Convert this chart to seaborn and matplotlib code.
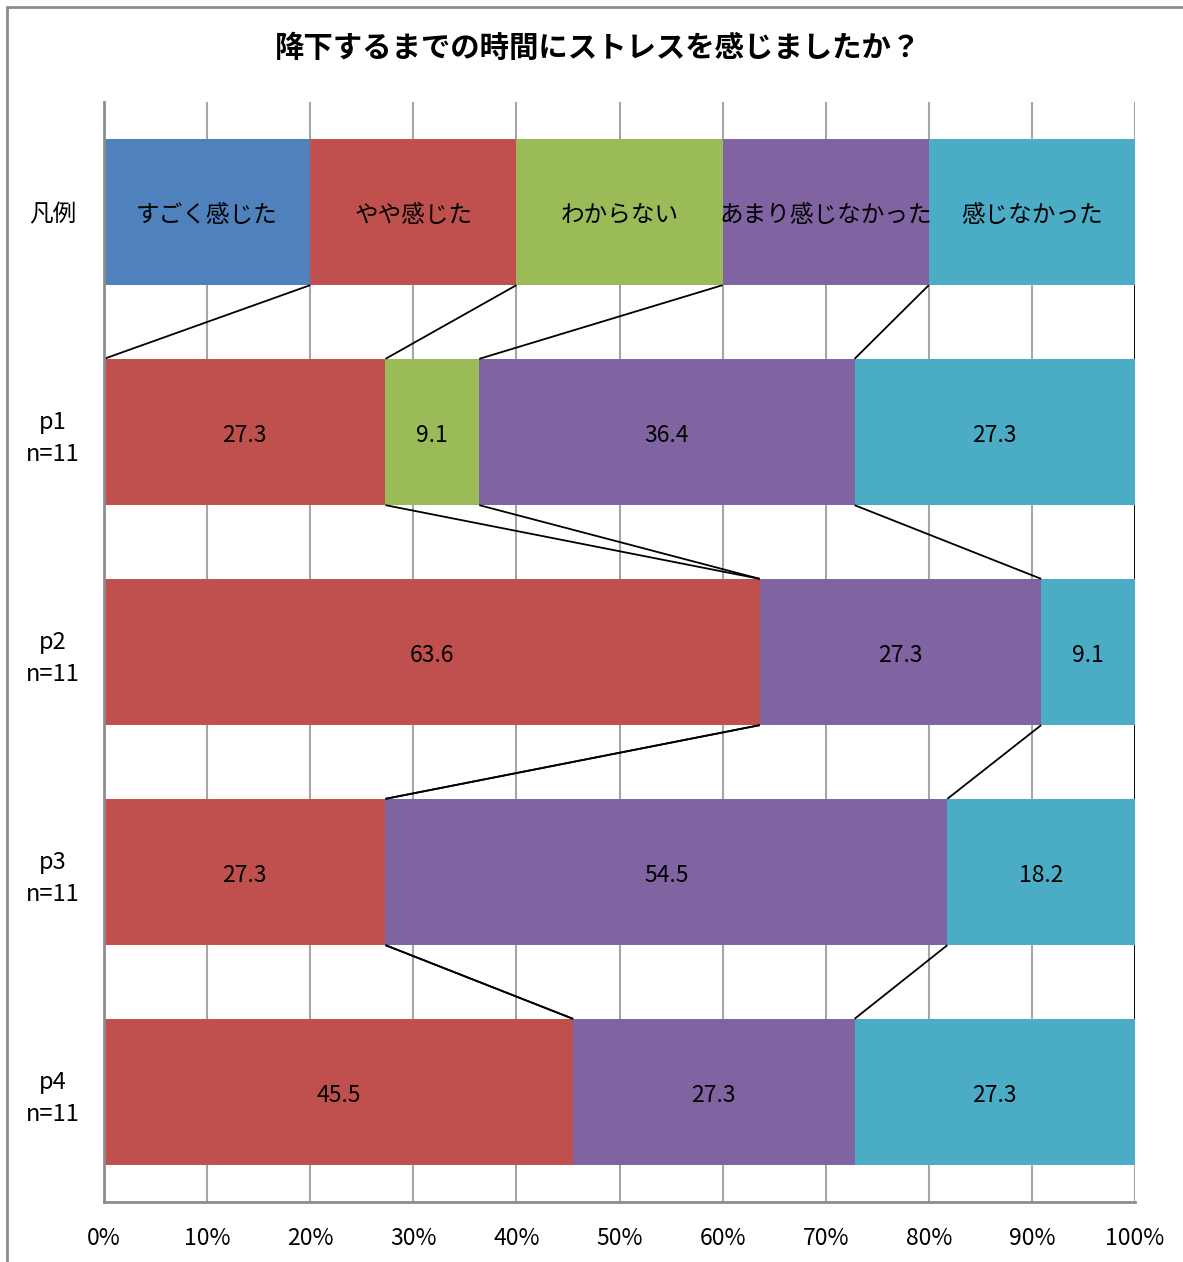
import matplotlib
matplotlib.use("Agg")
import matplotlib.pyplot as plt
import matplotlib.patches as mpatches
import numpy as np
import pandas as pd
import seaborn as sns

sns.set_theme(style="white")
plt.rcParams["font.family"] = ["Noto Sans CJK JP", "DejaVu Sans"]
plt.rcParams["text.color"] = "black"
plt.rcParams["xtick.labelcolor"] = "black"
plt.rcParams["ytick.labelcolor"] = "black"

title = "降下するまでの時間にストレスを感じましたか？"
rows = ["凡例", "p1\nn=11", "p2\nn=11", "p3\nn=11", "p4\nn=11"]
answers = ["すごく感じた", "やや感じた", "わからない", "あまり感じなかった", "感じなかった"]
colors = ["#4F81BD", "#C0504D", "#9BBB59", "#8064A2", "#4BACC6"]

# percentage of respondents per answer, one list per answer
strongly = [20, 0.0, 0.0, 0.0, 0.0]
somewhat = [20, 27.3, 63.6, 27.3, 45.5]
unsure = [20, 9.1, 0.0, 0.0, 0.0]
hardly = [20, 36.4, 27.3, 54.5, 27.3]
not_at_all = [20, 27.3, 9.1, 18.2, 27.3]

values = np.array([strongly, somewhat, unsure, hardly, not_at_all])  # answers x rows
cum = np.cumsum(values, axis=0)
cum[-1] = 100.0

fig = plt.figure(figsize=(11.83, 12.62), dpi=100)
ax = fig.add_axes([104 / 1183, 60 / 1262, 1031 / 1183, 1100 / 1262])

bar_h = 0.665
# stacked bars: draw cumulative totals from largest to smallest
for k in range(len(answers) - 1, -1, -1):
    df = pd.DataFrame({"row": rows, "cum": cum[k]})
    sns.barplot(data=df, x="cum", y="row", orient="h", color=colors[k],
                saturation=1, width=bar_h, linewidth=0, ax=ax, zorder=2)

# segment labels
for j in range(len(rows)):
    start = 0.0
    for k in range(len(answers)):
        v = values[k, j]
        end = cum[k, j]
        if v > 0:
            txt = answers[k] if j == 0 else f"{v:.1f}"
            size = 17 if j == 0 else 16.5
            ax.annotate(txt, ((start + end) / 2, j), xytext=(0, -2.5),
                        textcoords="offset points", ha="center", va="center",
                        fontsize=size, color="black", zorder=5)
        start = end

# series lines joining segment boundaries of neighbouring bars
for j in range(len(rows) - 1):
    for k in range(len(answers)):
        ax.plot([cum[k, j], cum[k, j + 1]],
                [j + bar_h / 2, j + 1 - bar_h / 2],
                color="black", lw=1.3, zorder=3, solid_capstyle="butt")

ax.set_xlim(0, 100)
ax.set_ylim(len(rows) - 0.5, -0.5)
ax.set_xticks(np.arange(0, 101, 10))
ax.set_xticklabels([f"{t}%" for t in range(0, 101, 10)], fontsize=16.5)
ax.set_xlabel("")
ax.set_ylabel("")
ax.set_yticks(range(len(rows)))
ax.set_yticklabels(rows, fontsize=17, linespacing=1.45)
ax.set_yticks(np.arange(-0.5, len(rows), 1), minor=True)
ax.tick_params(axis="y", which="major", length=0, pad=37)
ax.tick_params(axis="y", which="minor", length=6, width=1.5, color="#8C8C8C", direction="out")
ax.tick_params(axis="x", which="major", length=8, width=1.5, color="#8C8C8C", direction="inout", pad=14)
for lab in ax.get_yticklabels():
    lab.set_ha("center")
ax.xaxis.grid(True, color="#A6A6A6", lw=1.5, zorder=0)
ax.yaxis.grid(False)
ax.set_axisbelow(True)
for s in ["top", "right"]:
    ax.spines[s].set_visible(False)
for s in ["left", "bottom"]:
    ax.spines[s].set_color("#8C8C8C")
    ax.spines[s].set_linewidth(2)
    ax.spines[s].set_zorder(4)

fig.text(598 / 1183, 1 - 48 / 1262, title, ha="center", va="center",
         fontsize=21.2, fontweight="bold", color="black")

# chart area frame
fig.patches.append(mpatches.Rectangle((7 / 1183, -0.05), 1.2, 1 - 7 / 1262 + 0.05,
                                      transform=fig.transFigure, fill=False,
                                      edgecolor="#8C8C8C", lw=2))

fig.savefig("out.png", dpi=100)
